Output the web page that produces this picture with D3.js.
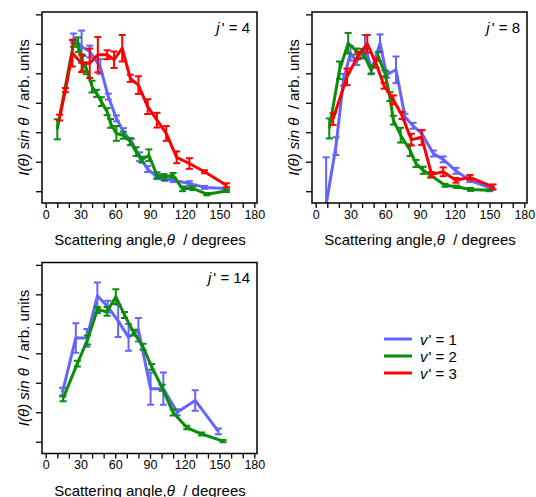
<!DOCTYPE html>
<html>
<head>
<meta charset="utf-8">
<script src="https://cdn.jsdelivr.net/npm/d3@7"></script>
<style>
  body { margin: 0; background: #fff; }
  svg { font-family: "Liberation Sans", Arial, sans-serif; }
</style>
</head>
<body>
<svg id="chart" width="536" height="497"></svg>
<script>
// Data (angle in degrees, intensity in arb. units, error bar half-size)
var j4_v1_angle = [24, 31, 38, 47, 54, 61, 67, 74, 81, 88, 96, 103, 110, 124, 137, 156];
var j4_v1_val   = [5.2, 4.9, 4.74, 4.23, 3.21, 2.47, 2.02, 1.68, 1.17, 0.75, 0.49, 0.43, 0.37, 0.26, 0.13, 0.09];
var j4_v1_err   = [0.15, 0.55, 0.2, 0.25, 0.1, 0.1, 0.12, 0.1, 0.15, 0.1, 0.08, 0.08, 0.06, 0.08, 0.05, 0.04];

var j4_v2_angle = [10, 24, 28, 32, 35, 40, 44, 48, 53, 56, 61, 67, 73, 78, 83, 89, 96, 102, 110, 118, 127, 139, 156];
var j4_v2_val   = [2.1, 5.02, 4.97, 4.34, 4.17, 3.55, 3.32, 3.04, 2.7, 2.3, 1.96, 1.9, 1.68, 1.34, 1.07, 1.22, 0.54, 0.48, 0.54, 0.08, 0.1, -0.1, 0.01];
var j4_v2_err   = [0.34, 0.12, 0.25, 0.25, 0.2, 0.2, 0.12, 0.15, 0.12, 0.15, 0.25, 0.12, 0.12, 0.15, 0.1, 0.2, 0.1, 0.1, 0.08, 0.08, 0.06, 0.04, 0.04];

var j4_v3_angle = [12, 17, 23, 31, 38, 45, 53, 59, 66, 73, 80, 88, 96, 104, 113, 124, 137, 156];
var j4_v3_val   = [2.5, 3.43, 4.68, 4.34, 4.34, 4.63, 4.63, 4.46, 4.85, 3.83, 3.6, 2.87, 2.41, 1.96, 1.15, 0.94, 0.66, 0.2];
var j4_v3_err   = [0.1, 0.07, 0.45, 0.3, 0.5, 0.6, 0.15, 0.28, 0.45, 0.12, 0.3, 0.25, 0.25, 0.25, 0.2, 0.18, 0.05, 0.07];

var j8_v1_angle = [9, 17.5, 24, 30, 35.4, 42.5, 48.3, 55.5, 61.2, 69.3, 77, 84, 91.5, 101.5, 110, 121, 133, 152];
var j8_v1_val   = [-0.45, 1.53, 3.78, 4.68, 4.4, 4.9, 4.12, 5.02, 3.95, 4.12, 2.53, 2.22, 1.96, 1.28, 1.08, 0.69, 0.37, 0.09];
var j8_v1_err   = [1.6, 0.3, 0.2, 0.25, 0.12, 0.4, 0.12, 0.3, 0.1, 0.45, 0.1, 0.1, 0.12, 0.1, 0.1, 0.1, 0.06, 0.05];

var j8_v2_angle = [11.7, 20.5, 28, 35.4, 41, 47.7, 54, 59.8, 64, 67, 73.3, 81.4, 86.5, 92.8, 99.2, 111.6, 121.7, 133.7, 149.8];
var j8_v2_val   = [2.13, 4.1, 5.02, 4.74, 4.68, 4.12, 4.57, 4.0, 3.21, 2.41, 1.9, 1.39, 0.94, 0.71, 0.54, 0.2, 0.15, 0.06, 0.03];
var j8_v2_err   = [0.34, 0.3, 0.35, 0.1, 0.15, 0.15, 0.15, 0.1, 0.15, 0.15, 0.25, 0.2, 0.12, 0.12, 0.08, 0.05, 0.04, 0.05, 0.03];

var j8_v3_angle = [15, 27, 36.5, 44.5, 52, 59, 67, 74.5, 82.5, 91.5, 100, 110, 121, 133, 153];
var j8_v3_val   = [2.45, 3.88, 4.6, 5.0, 4.34, 3.58, 3.1, 2.57, 1.75, 1.82, 0.57, 0.66, 0.37, 0.47, 0.15];
var j8_v3_err   = [0.2, 0.28, 0.12, 0.3, 0.15, 0.1, 0.15, 0.12, 0.2, 0.25, 0.08, 0.15, 0.08, 0.08, 0.08];

var j14_v1_angle = [14.5, 26, 35.5, 44.6, 53.5, 62.5, 71.5, 80, 90.5, 101.5, 113.5, 129, 149];
var j14_v1_val   = [1.68, 3.52, 3.52, 4.95, 4.58, 4.1, 3.54, 3.8, 1.8, 1.8, 1.0, 1.4, 0.35];
var j14_v1_err   = [0.15, 0.5, 0.3, 0.45, 0.2, 0.55, 0.45, 0.4, 0.55, 0.55, 0.1, 0.35, 0.1];

var j14_v2_angle = [15, 27.3, 36, 44.5, 53, 60.5, 68, 76, 84, 91.5, 100.5, 110, 121.7, 134.6, 153];
var j14_v2_val   = [1.47, 2.65, 3.45, 4.47, 4.42, 4.92, 4.3, 3.7, 3.22, 2.54, 1.83, 0.99, 0.48, 0.26, 0.02];
var j14_v2_err   = [0.1, 0.1, 0.15, 0.1, 0.15, 0.25, 0.1, 0.1, 0.1, 0.1, 0.1, 0.1, 0.06, 0.05, 0.04];

var xTicks = [0, 30, 60, 90, 120, 150, 180];
var legendLabels = ["1", "2", "3"];
var colors = ["#6464ff", "#0b8c0b", "#ff0000"];

function zipSeries(a, v, e) {
  return a.map(function (d, i) { return {x: d, y: v[i], e: e[i]}; });
}

var svg = d3.select("#chart");

// Draws one panel: frame, axes, labels, lines with error bars
function drawPanel(id, left, top, jLabel, series) {
  var w = 215, h = 191;
  var g = svg.append("g").attr("transform", "translate(" + left + "," + top + ")");

  var x = d3.scaleLinear().domain([0, 180]).range([3.7, 212.3]);
  var y = d3.scaleLinear().domain([-0.4, 6.08]).range([h, 0]);

  g.append("clipPath").attr("id", "clip" + id)
    .append("rect").attr("width", w).attr("height", h);

  // axes
  var xAxis = d3.axisBottom(x)
      .tickValues(d3.range(0, 181, 10))
      .tickSize(5)
      .tickFormat(function (d) { return xTicks.indexOf(d) >= 0 ? d : ""; });
  var gx = g.append("g").attr("transform", "translate(0," + h + ")").call(xAxis);
  gx.select(".domain").remove();
  gx.selectAll("line").attr("stroke", "#000").attr("stroke-width", 1.3);
  gx.selectAll("text").attr("font-size", 12.5).attr("fill", "#000").attr("dy", "0.71em").attr("y", 7);

  var yAxis = d3.axisLeft(y).tickValues(d3.range(0, 7)).tickSize(6).tickFormat("");
  var gy = g.append("g").call(yAxis);
  gy.select(".domain").remove();
  gy.selectAll("line").attr("stroke", "#000").attr("stroke-width", 1.3);

  // series
  var line = d3.line().x(function (d) { return x(d.x); }).y(function (d) { return y(d.y); });
  var plot = g.append("g").attr("clip-path", "url(#clip" + id + ")");
  series.forEach(function (s) {
    var sg = plot.append("g");
    sg.append("path")
      .datum(s.data)
      .attr("d", line)
      .attr("fill", "none")
      .attr("stroke", s.color)
      .attr("stroke-width", 3)
      .attr("stroke-linejoin", "round");
    var bars = sg.selectAll(".eb").data(s.data).enter().append("g");
    bars.append("line")
      .attr("x1", function (d) { return x(d.x); }).attr("x2", function (d) { return x(d.x); })
      .attr("y1", function (d) { return y(d.y - d.e); }).attr("y2", function (d) { return y(d.y + d.e); })
      .attr("stroke", s.color).attr("stroke-width", 2);
    [-1, 1].forEach(function (sgn) {
      bars.append("line")
        .attr("x1", function (d) { return x(d.x) - 3.5; }).attr("x2", function (d) { return x(d.x) + 3.5; })
        .attr("y1", function (d) { return y(d.y + sgn * d.e); }).attr("y2", function (d) { return y(d.y + sgn * d.e); })
        .attr("stroke", s.color).attr("stroke-width", 2);
    });
  });

  // frame
  g.append("rect").attr("width", w).attr("height", h)
    .attr("fill", "none").attr("stroke", "#000").attr("stroke-width", 1.5);

  // j' label
  var jt = g.append("text").attr("x", w - 7).attr("y", 20.5)
    .attr("text-anchor", "end").attr("font-size", 15);
  jt.append("tspan").attr("font-style", "italic").text("j");
  jt.append("tspan").attr("dx", 2).text("' = " + jLabel);

  // x title
  var xt = g.append("text").attr("x", w / 2 + 0.5).attr("y", h + 42)
    .attr("text-anchor", "middle").attr("font-size", 15).style("white-space", "pre");
  xt.append("tspan").text("Scattering angle,");
  xt.append("tspan").attr("font-style", "italic").text("\u03b8");
  xt.append("tspan").text("  / degrees");

  // y title
  var yt = g.append("text")
    .attr("transform", "translate(-13," + (h / 2) + ") rotate(-90)")
    .attr("text-anchor", "middle").attr("font-size", 15).style("white-space", "pre");
  yt.append("tspan").attr("font-style", "italic").text("I(\u03b8) sin \u03b8");
  yt.append("tspan").text("  / arb. units");
}

drawPanel("a", 42, 12, "4", [
  {color: colors[0], data: zipSeries(j4_v1_angle, j4_v1_val, j4_v1_err)},
  {color: colors[1], data: zipSeries(j4_v2_angle, j4_v2_val, j4_v2_err)},
  {color: colors[2], data: zipSeries(j4_v3_angle, j4_v3_val, j4_v3_err)}
]);

drawPanel("b", 312, 12, "8", [
  {color: colors[0], data: zipSeries(j8_v1_angle, j8_v1_val, j8_v1_err)},
  {color: colors[1], data: zipSeries(j8_v2_angle, j8_v2_val, j8_v2_err)},
  {color: colors[2], data: zipSeries(j8_v3_angle, j8_v3_val, j8_v3_err)}
]);

drawPanel("c", 42, 262.5, "14", [
  {color: colors[0], data: zipSeries(j14_v1_angle, j14_v1_val, j14_v1_err)},
  {color: colors[1], data: zipSeries(j14_v2_angle, j14_v2_val, j14_v2_err)}
]);

// Legend
var legend = svg.append("g").attr("transform", "translate(384,339)");
legendLabels.forEach(function (lab, i) {
  var row = legend.append("g").attr("transform", "translate(0," + (i * 17) + ")");
  row.append("line").attr("x1", 0).attr("x2", 28).attr("y1", 0).attr("y2", 0)
    .attr("stroke", colors[i]).attr("stroke-width", 3);
  var t = row.append("text").attr("x", 36).attr("y", 5.5).attr("font-size", 15);
  t.append("tspan").attr("font-style", "italic").text("v");
  t.append("tspan").attr("dx", 1).text("' = " + lab);
});
</script>
</body>
</html>
